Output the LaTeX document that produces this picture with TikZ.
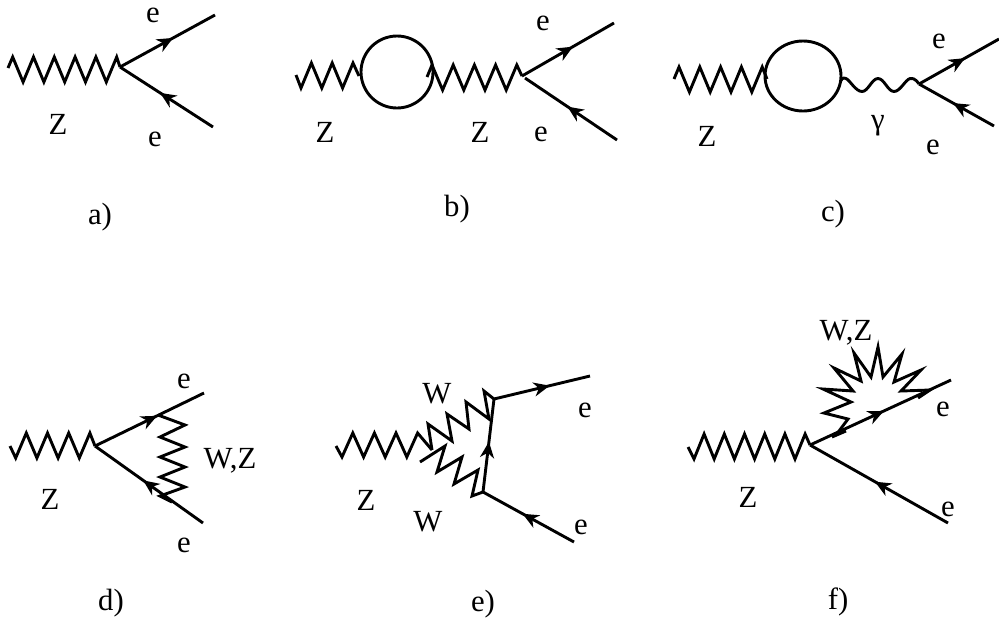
\documentclass[tikz,border=0pt]{standalone}
\usepackage{fontspec}
\setmainfont{Liberation Serif}
\usetikzlibrary{arrows.meta,decorations.markings}
\tikzset{
  lbl/.style={inner sep=0pt,font=\fontsize{17.5}{20}\selectfont},
  fermion/.style={line width=0.058cm,postaction={decorate,decoration={markings,
    mark=at position #1 with {\arrow{Stealth[length=0.32cm,width=0.28cm,inset=0.1cm]}}}}},
  boson/.style={line width=0.058cm},
  loopline/.style={line width=0.058cm}
}
\begin{document}
\begin{tikzpicture}[x=0.02cm,y=-0.02cm]
  \useasboundingbox (0,0) rectangle (999,620);

  % a)
  \coordinate (a0) at (8,68);
  \coordinate (av) at (120,67);
  \coordinate (a1) at (215,15);
  \coordinate (a2) at (213,127);
  \draw[boson] (a0) -- ++(4.7,-11) \foreach \i in {1,...,5} {-- ++(10.4,25) -- ++(10.4,-25)} -- (av);
  \draw[fermion=0.56] (av) -- (a1);
  \draw[fermion=0.57] (a2) -- (av);
  \node[lbl] (ae1) at (153,15) {e};
  \node[lbl] (ae2) at (155,139) {e};
  \node[lbl] (aZ) at (58,124) {Z};
  \node[lbl] (atag) at (100,217) {a)};

  % b)
  \coordinate (b0) at (296,75);
  \coordinate (b1) at (359,76);
  \coordinate (b2) at (427,77);
  \coordinate (bv) at (522,76);
  \coordinate (bw) at (525,78);
  \coordinate (b3) at (614,23);
  \coordinate (b4) at (617,140);
  \draw[boson] (b0) -- ++(5,13) \foreach \i in {1,...,2} {-- ++(10.4,-25) -- ++(10.4,25)} -- ++(10.4,-25) -- (b1);
  \draw[loopline] (397,72) circle (36);
  \draw[boson] (b2) -- ++(5,-12) \foreach \i in {1,...,4} {-- ++(10.6,25) -- ++(10.6,-25)} -- (bv);
  \draw[fermion=0.555] (bv) -- (b3);
  \draw[fermion=0.54] (b4) -- (bw);
  \node[lbl] (be1) at (543,23) {e};
  \node[lbl] (be2) at (541,134) {e};
  \node[lbl] (bZ1) at (325,132) {Z};
  \node[lbl] (bZ2) at (480,132) {Z};
  \node[lbl] (btag) at (457,209) {b)};

  % c)
  \coordinate (c0) at (674,79);
  \coordinate (c1) at (767,79);
  \coordinate (cv) at (919,84);
  \coordinate (c3) at (999,39);
  \coordinate (c4) at (994,126);
  \draw[boson] (c0) -- ++(5,-12) \foreach \i in {1,...,4} {-- ++(10.4,25) -- ++(10.4,-25)} -- (c1);
  \draw[loopline] (803,76) ellipse (38 and 35);
  \draw[boson] plot[smooth,tension=0.7] coordinates {(841,81) (846,78.5) (862,91.5) (878,78.5) (894,91.5) (910,78.5) (919,84)};
  \draw[fermion=0.575] (cv) -- (c3);
  \draw[fermion=0.547] (c4) -- (cv);
  \node[lbl] (ce1) at (939,41) {e};
  \node[lbl] (ce2) at (933,147) {e};
  \node[lbl] (cZ) at (707,136) {Z};
  \node[lbl] (cg) at (878,126) {γ};
  \node[lbl] (ctag) at (833,214) {c)};

  % d)
  \coordinate (d0) at (10,446);
  \coordinate (dv) at (95,446);
  \coordinate (d1) at (204,393);
  \coordinate (d2) at (203,523);
  \draw[boson] (d0) -- ++(5.7,12) \foreach \i in {1,...,3} {-- ++(10.6,-25) -- ++(10.6,25)} -- ++(10.6,-25) -- (dv);
  \draw[fermion=0.57] (dv) -- (d1);
  \draw[fermion=0.555] (d2) -- (dv);
  \draw[boson] plot coordinates {(158,415) (185,425) (160,437) (185,447) (160,457) (185,467) (160,477) (185,487) (160,496) (172,502)};
  \node[lbl] (de1) at (184,381) {e};
  \node[lbl] (de2) at (184,545) {e};
  \node[lbl] (dZ) at (50,499) {Z};
  \node[lbl] (dwz) at (230,461) {W,Z};
  \node[lbl] (dtag) at (111,603) {d)};

  % e)
  \coordinate (e0) at (336,446);
  \coordinate (e2) at (432,450);
  \coordinate (e4) at (494,399);
  \coordinate (e5) at (420,462);
  \coordinate (ev) at (483,492);
  \coordinate (e7) at (590,376);
  \coordinate (e8) at (574,542);
  \draw[boson] (e0) -- ++(6,11) \foreach \i in {1,...,3} {-- ++(10.8,-24) -- ++(10.8,24)} -- ++(10.8,-24) -- (e2);
  \draw[boson] plot coordinates {(432,450) (428,424) (452,441) (447,414) (469,429) (466,402) (489,419) (484,391) (494,399)};
  \draw[boson] plot coordinates {(420,462) (445,446) (437,472) (462,457) (454,484) (478,470) (472,496) (483,492)};
  \draw[fermion=0.54] (ev) -- (e4);
  \draw[fermion=0.58] (e4) -- (e7);
  \draw[fermion=0.565] (e8) -- (ev);
  \node[lbl] (eW1) at (437,394) {W};
  \node[lbl] (eW2) at (428,522) {W};
  \node[lbl] (eZ) at (366,500) {Z};
  \node[lbl] (ee1) at (585,410) {e};
  \node[lbl] (ee2) at (581,527) {e};
  \node[lbl] (etag) at (483,604) {e)};

  % f)
  \coordinate (f0) at (688,447);
  \coordinate (fv) at (810,445);
  \coordinate (f1) at (951,380);
  \coordinate (f2) at (948,523);
  \coordinate (f4) at (832,437);
  \coordinate (f5) at (846,431);
  \draw[boson] (f0) -- ++(6,12) \foreach \i in {1,...,5} {-- ++(10.1,-25) -- ++(10.1,25)} -- ++(10.1,-25) -- (fv);
  \draw[fermion=0.525] (fv) -- (f1);
  \draw[fermion=0.53] (f2) -- (fv);
  \draw[boson] (f4) -- (f5);
  \draw[boson] plot coordinates {(836,435) (848,419) (824,413) (851,402) (823,389) (853,391) (834,368) (861,381) (854,353) (871,377) (878,347) (883,377) (902,354) (894,382) (921,370) (901,391) (930,390) (918,398)};
  \node[lbl] (fwz) at (846,333) {W,Z};
  \node[lbl] (fZ) at (748,497) {Z};
  \node[lbl] (fe1) at (943,409) {e};
  \node[lbl] (fe2) at (948,509) {e};
  \node[lbl] (ftag) at (838,602) {f)};
\end{tikzpicture}
\end{document}
